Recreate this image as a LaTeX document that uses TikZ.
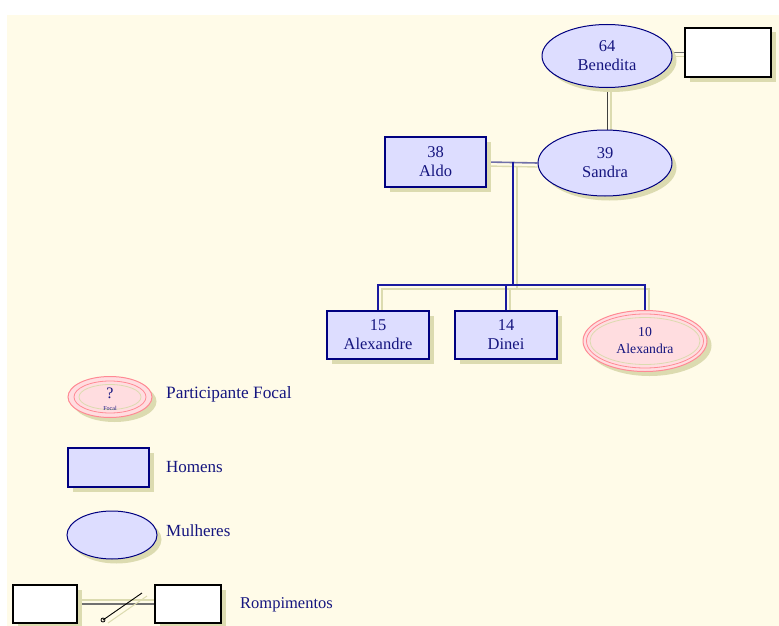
\documentclass[tikz,border=0pt]{standalone}
\usepackage{fontspec}
\setmainfont{Liberation Serif}
\usetikzlibrary{shapes.geometric,shadows}
\definecolor{bgc}{HTML}{FFFBE8}
\definecolor{shad}{HTML}{DCDBB0}
\definecolor{lav}{HTML}{DDDDFF}
\definecolor{navy}{HTML}{000080}
\definecolor{descc}{HTML}{1A1AA0}
\definecolor{txt}{HTML}{15157F}
\definecolor{pinkf}{HTML}{FFDDE0}
\definecolor{pinkl}{HTML}{FF8A94}
\definecolor{marr}{HTML}{7070A8}
\definecolor{grayl}{HTML}{707070}
\pgfdeclarelayer{bglayer}
\pgfdeclarelayer{lines}
\pgfsetlayers{bglayer,lines,main}
\newcommand{\nfs}{\fontsize{16.5pt}{19pt}\selectfont}
\begin{document}
\begin{tikzpicture}[x=1pt,y=-1pt,
  shd/.style={drop shadow={shadow xshift=4.5pt,shadow yshift=-4.5pt,fill=shad,opacity=1}},
  man/.style={rectangle,draw=navy,line width=1.6pt,fill=lav,inner sep=0pt,text=txt,align=center,font=\nfs,shd},
  woman/.style={ellipse,draw=navy,line width=1pt,fill=lav,inner sep=0pt,text=txt,align=center,font=\nfs,shd},
  focal/.style={ellipse,draw=pinkl,line width=1pt,fill=pinkf,inner sep=0pt,text=txt,align=center,shd},
  blank/.style={rectangle,draw=black,line width=1.8pt,fill=white,inner sep=0pt,shd},
  legtext/.style={anchor=base west,text=txt,font=\nfs,inner sep=0pt},
  desc/.style={draw=descc,line width=1.2pt},
  mline/.style={draw=marr,line width=1.6pt},
  gline/.style={draw=grayl,line width=1.4pt},
  dline/.style={draw=black!75,line width=1pt},
  sline/.style={draw=shad,line width=1.4pt}
]
\useasboundingbox (0,0) rectangle (779,626);
\begin{pgfonlayer}{bglayer}
\fill[bgc] (7,15) rectangle (779,626);
\end{pgfonlayer}

% family nodes
\node[woman,minimum width=130pt,minimum height=63pt] (bene) at (607,56) {64\\Benedita};
\node[blank,minimum width=86pt,minimum height=49pt] (wrect) at (728,52.5) {};
\node[woman,minimum width=134pt,minimum height=66pt] (sandra) at (605,163) {39\\Sandra};
\node[man,minimum width=101pt,minimum height=50pt] (aldo) at (435.5,162) {38\\Aldo};
\node[man,minimum width=102pt,minimum height=48pt] (alexandre) at (378,335) {15\\Alexandre};
\node[man,minimum width=102pt,minimum height=48pt] (dinei) at (506,335) {14\\Dinei};
\node[focal,minimum width=124pt,minimum height=61pt,font=\fontsize{13.7pt}{17pt}\selectfont] (alexandra) at (645,341) {10\\Alexandra};
\draw[pinkl,line width=0.8pt] (alexandra.center) ellipse [x radius=58.5, y radius=27];
\draw[shad,line width=0.8pt] (alexandra.center) ellipse [x radius=55, y radius=23.5];

\coordinate (m) at (513,162);
\coordinate (bar) at (513,285);

% connectors
\begin{pgfonlayer}{lines}
\draw[sline] ([shift={(0,4)}]bene.east |- wrect.west) -- ([shift={(0,4)}]wrect.west);
\draw[sline] ([shift={(4,2)}]bene.south) -- ([shift={(4,0)}]bene.south |- sandra.north);
\draw[sline] ([shift={(0,4)}]aldo.east) -- ([shift={(0,4)}]sandra.west);
\draw[sline] ([shift={(4,4)}]m) -- ([shift={(4,4)}]bar);
\draw[sline] ([shift={(4,0)}]alexandre.north) |- ([shift={(4,4)}]bar) -| ([shift={(4,0)}]alexandra.north);
\draw[sline] ([shift={(4,0)}]dinei.north) -- ([shift={(4,4)}]dinei.north |- bar);
\draw[gline] (bene.east |- wrect.west) -- (wrect.west);
\draw[dline] (bene.south) -- (bene.south |- sandra.north);
\draw[mline] (aldo.east) -- (sandra.west);
\draw[desc] (m) -- (bar);
\draw[desc] (alexandre.north) |- (bar) -| (alexandra.north);
\draw[desc] (dinei.north) -- (dinei.north |- bar);
\end{pgfonlayer}

% legend
\node[focal,minimum width=84pt,minimum height=41pt] (lfocal) at (110,397) {};
\draw[pinkl,line width=0.8pt] (lfocal.center) ellipse [x radius=36, y radius=16];
\draw[shad,line width=0.8pt] (lfocal.center) ellipse [x radius=31, y radius=12.5];
\node[text=txt,font=\fontsize{16pt}{16pt}\selectfont,inner sep=0pt] (lq) at (110,393) {?};
\node[text=txt,font=\fontsize{6pt}{6pt}\selectfont,inner sep=0pt] (lf) at (110,408) {Focal};
\node[legtext,font=\fontsize{17.3pt}{19pt}\selectfont] (tfocal) at (166,398.5) {Participante Focal};

\node[man,minimum width=81pt,minimum height=39pt] (lmen) at (108.5,467.5) {};
\node[legtext,font=\fontsize{17pt}{19pt}\selectfont] (tmen) at (166,472.5) {Homens};

\node[woman,minimum width=90pt,minimum height=48pt] (lwomen) at (112,535) {};
\node[legtext,font=\fontsize{17pt}{19pt}\selectfont] (twomen) at (166,536.5) {Mulheres};

\node[blank,minimum width=64pt,minimum height=38pt] (r1) at (45,604) {};
\node[blank,minimum width=66pt,minimum height=38pt] (r2) at (188,604) {};
\coordinate (s1) at (103,620);
\coordinate (s2) at (142,593);
\begin{pgfonlayer}{lines}
\draw[sline] ([yshift=4pt]r1.east) -- ([yshift=4pt]r2.west);
\draw[gline] (r1.east) -- (r2.west);
\draw[sline,line width=1pt] ([shift={(5,3)}]s1) -- ([shift={(5,3)}]s2);
\end{pgfonlayer}
\draw[black,line width=0.9pt] (s1) -- (s2);
\draw[black,line width=0.8pt] (s1) circle [radius=2];
\node[legtext] (trup) at (240,608.5) {Rompimentos};
\end{tikzpicture}
\end{document}
